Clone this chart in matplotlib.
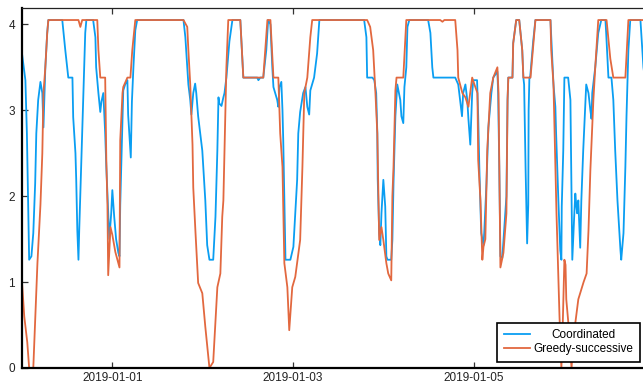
import numpy as np
import pandas as pd
import matplotlib
matplotlib.use("Agg")
import matplotlib.pyplot as plt
import matplotlib.dates as mdates
import matplotlib.ticker as mticker

plt.rcParams["font.family"] = ["Liberation Sans", "DejaVu Sans"]

# Hourly-ish profiles, hours counted from 2018-12-31 00:00
start = pd.Timestamp("2018-12-31 00:00")

coord_hours = [
    0.0, 0.9, 1.3, 1.7, 1.9, 2.5, 3.0, 3.5, 3.8, 4.3, 4.9, 5.4, 5.7, 6.2, 6.7, 7.0,
    10.7, 11.5, 12.3, 13.4, 13.6, 14.2, 14.4, 14.7, 15.0, 15.2, 15.8, 16.3, 16.8, 17.1,
    18.9, 19.5, 19.7, 20.3, 20.8, 21.1, 21.6, 22.1, 22.4, 22.9, 23.2, 23.7, 24.0, 24.5,
    25.0, 25.6, 25.9, 26.1, 26.6, 26.9, 27.4, 28.0, 28.2, 28.9, 29.2, 29.6, 30.1, 30.6,
    42.9, 43.4, 43.9, 44.2, 44.7, 45.0, 45.5, 46.0, 46.3, 46.8, 47.9, 48.7, 49.2, 49.8,
    50.8, 51.4, 51.9, 52.2, 52.4, 53.0, 53.5, 53.8, 54.3, 55.1, 55.9,
    58.0, 58.8, 62.5, 62.8, 63.3, 64.1, 64.9, 65.4, 66.0, 66.5, 66.8, 67.8, 68.1, 68.4,
    68.9, 69.2, 69.4, 69.7, 70.0, 71.3, 72.1, 72.6, 73.1, 73.4, 73.9, 74.7, 75.3, 75.8,
    76.3, 76.6, 77.6, 78.4, 79.0,
    90.9, 91.5, 91.7, 93.1, 93.6, 94.1, 94.4, 94.5, 94.9, 95.2, 95.5, 96.0, 96.5, 96.8,
    97.1, 98.1, 98.4, 98.7, 99.2, 99.7, 100.0, 100.5, 100.8, 101.3, 101.6, 102.1, 102.4,
    102.9, 107.9, 108.5, 109.0, 109.3,
    115.1, 115.9, 116.4, 116.9, 117.2, 117.8, 118.3, 118.6, 119.1, 119.6, 119.9, 120.9,
    121.2, 121.5, 122.0, 122.6, 122.8, 123.4, 123.9, 124.7, 125.2, 126.3, 126.5, 126.8,
    127.1, 127.6, 128.1, 128.7, 129.0, 129.2, 130.3, 130.5, 131.3, 132.1, 132.9, 133.2,
    133.4, 133.8, 134.2, 134.5, 134.6, 134.8, 135.0, 135.8, 136.4,
    140.4, 141.2, 141.7, 141.9, 142.5, 143.0, 143.3, 143.4, 143.8, 144.1, 145.1, 145.7,
    145.9, 146.1, 146.2, 146.7, 147.0, 147.3, 147.5, 147.8, 148.1, 148.3, 148.6, 149.1,
    149.7, 149.9, 150.5, 151.0, 151.3, 151.5, 152.3, 153.1, 153.9, 155.0, 155.2, 155.8,
    156.6, 157.1, 157.6, 158.2, 159.0, 159.2, 159.8, 160.3, 160.6, 161.1, 161.6, 164.3,
    165.1, 166.0,
]
coord_values = [
    3.66, 3.35, 2.73, 1.76, 1.26, 1.30, 1.57, 2.15, 2.73, 3.12, 3.33, 3.20, 2.80, 3.50, 3.90, 4.05,
    4.05, 3.70, 3.38, 3.38, 2.92, 2.50, 2.20, 1.60, 1.26, 1.60, 2.45, 3.12, 3.90, 4.05,
    4.05, 3.85, 3.50, 3.20, 2.98, 3.10, 3.20, 2.73, 2.34, 1.80, 1.50, 1.80, 2.07, 1.76,
    1.50, 1.34, 1.30, 1.90, 2.73, 3.23, 3.30, 3.35, 2.95, 2.45, 3.10, 3.50, 3.93, 4.05,
    4.05, 3.85, 3.50, 3.30, 3.12, 2.95, 3.20, 3.31, 3.20, 2.93, 2.53, 1.95, 1.43, 1.26,
    1.26, 1.76, 2.53, 3.15, 3.08, 3.05, 3.15, 3.20, 3.38, 3.80, 4.05,
    4.05, 3.38, 3.38, 3.35, 3.38, 3.38, 3.70, 4.05, 4.00, 3.50, 3.27, 3.12, 3.04, 3.27,
    3.33, 3.00, 2.66, 1.95, 1.26, 1.26, 1.41, 1.80, 2.19, 2.73, 2.98, 3.20, 3.27, 3.04,
    2.95, 3.23, 3.38, 3.66, 4.05,
    4.05, 3.85, 3.38, 3.38, 3.35, 3.20, 2.73, 2.20, 1.57, 1.43, 1.80, 2.19, 1.88, 1.30,
    1.26, 1.26, 1.49, 2.15, 2.93, 3.30, 3.23, 3.12, 2.93, 2.85, 3.27, 3.50, 3.97,
    4.05, 4.05, 3.90, 3.50, 3.38,
    3.38, 3.30, 3.12, 2.93, 3.20, 3.30, 3.12, 2.90, 2.60, 3.20, 3.35, 3.35,
    2.93, 2.34, 1.57, 1.43, 1.57, 2.15, 2.80, 3.20, 3.38, 3.45, 3.20, 2.34,
    1.30, 1.28, 1.60, 2.00, 3.12, 3.38, 3.38, 3.78, 4.05, 4.05, 3.70, 3.38,
    3.30, 2.30, 1.45, 1.90, 3.00, 3.38, 3.38, 3.80, 4.05,
    4.05, 3.30, 3.04, 2.73, 1.95, 1.37, 1.26, 1.88, 2.53, 3.38, 3.38, 3.12,
    2.34, 1.60, 1.26, 1.76, 2.03, 1.88, 1.80, 1.95, 1.60, 1.40, 1.95, 2.53,
    3.12, 3.30, 3.20, 3.00, 2.90, 3.20, 3.50, 3.90, 4.05, 4.05, 3.90, 3.38,
    3.38, 3.12, 2.53, 1.95, 1.37, 1.26, 1.57, 2.34, 2.93, 3.70, 4.05, 4.05,
    3.50, 3.20,
]

greedy_hours = [
    0.0, 0.6, 1.4, 1.9, 3.0, 4.1, 4.9, 5.4, 5.7, 6.2, 6.7, 7.0,
    15.0, 15.5, 16.0, 20.0, 20.3, 20.8, 22.1, 22.4, 22.7, 22.9, 23.5, 24.0, 24.8, 25.9,
    26.1, 26.7, 26.9, 28.0, 28.8, 29.3, 30.1,
    42.9, 43.9, 44.2, 44.7, 45.3, 45.5, 46.1, 46.8, 47.9, 48.7, 49.8, 50.8, 51.9, 52.7,
    53.2, 53.5, 54.3, 54.8, 58.0, 58.8, 64.1, 65.2, 66.0, 66.8, 68.1, 68.6, 69.2, 69.7,
    70.5, 71.0, 71.8, 72.6, 73.9, 74.5, 75.0, 75.8, 76.6, 77.1,
    91.7, 92.5, 93.3, 93.9, 94.4, 94.7, 94.9, 95.5, 96.0, 96.8, 97.3, 98.1, 98.4, 98.7,
    99.2, 99.5, 101.3, 101.8, 102.1,
    111.1, 111.7, 112.2, 115.1, 115.7, 115.9, 117.0, 117.8, 118.6, 119.6, 120.2, 121.0,
    121.2, 121.8, 122.3, 122.6, 123.1, 123.6, 124.4, 125.2, 126.3, 126.6, 126.8, 127.1,
    127.9, 128.7, 129.0, 129.2, 130.3, 130.5, 131.3, 132.1, 132.9, 133.2, 135.1, 135.9,
    136.4, 140.4, 140.6, 141.2, 141.7, 142.0, 142.2, 142.8, 143.3, 143.6, 144.1, 144.4,
    144.6, 145.2, 146.0, 146.5, 147.8, 149.2, 150.0, 150.5, 151.0, 151.8, 152.3, 153.1,
    155.3, 156.3, 157.1, 160.3, 161.1, 166.0,
]
greedy_values = [
    1.00, 0.60, 0.30, 0.00, 0.00, 1.22, 1.90, 2.50, 3.20, 3.50, 3.90, 4.05,
    4.05, 3.97, 4.05, 4.05, 3.70, 3.38, 3.38, 2.42, 1.90, 1.08, 1.64, 1.55, 1.35, 1.17,
    2.65, 3.20, 3.27, 3.38, 3.38, 3.70, 4.05,
    4.05, 3.97, 3.70, 3.30, 2.60, 2.10, 1.57, 0.99, 0.87, 0.48, 0.00, 0.07, 0.94, 1.10,
    1.76, 1.95, 3.50, 4.05, 4.05, 3.38, 3.38, 4.05, 4.05, 3.38, 3.38, 2.73, 2.34, 1.22,
    0.94, 0.44, 0.94, 1.06, 1.49, 2.34, 3.20, 3.38, 3.85, 4.05,
    4.05, 3.97, 3.70, 3.20, 2.73, 1.95, 1.49, 1.64, 1.49, 1.22, 1.10, 1.02, 2.00, 2.34,
    3.23, 3.38, 3.38, 3.80, 4.05,
    4.05, 4.03, 4.05, 4.05, 3.70, 3.38, 3.20, 3.15, 3.04, 3.38, 3.30, 3.20,
    2.42, 1.95, 1.26, 1.41, 1.50, 2.53, 3.20, 3.38, 3.50, 3.20, 2.34, 1.17,
    1.34, 1.80, 3.12, 3.38, 3.38, 3.78, 4.05, 4.05, 3.70, 3.38, 3.38, 3.80,
    4.05, 4.05, 3.70, 3.30, 2.34, 1.80, 1.50, 0.60, 0.00, 0.40, 1.26, 1.20,
    0.80, 0.50, 0.00, 0.35, 0.80, 1.00, 1.10, 1.60, 2.30, 3.12, 3.50, 4.05,
    4.05, 3.60, 3.38, 3.38, 4.05, 4.05,
]

series_labels = ["Coordinated", "Greedy-successive"]
tick_dates = ["2019-01-01", "2019-01-03", "2019-01-05"]
y_ticks = [0, 1, 2, 3, 4]

coord_color = "#0A9EF2"
greedy_color = "#E2683F"

coord_t = start + pd.to_timedelta(coord_hours, unit="h")
greedy_t = start + pd.to_timedelta(greedy_hours, unit="h")

fig = plt.figure(figsize=(6.43, 3.84), dpi=100)
ax = fig.add_axes([22 / 643, 16 / 384, (646 - 22) / 643, 360 / 384])

ax.plot(coord_t, coord_values, color=coord_color, lw=1.3, label=series_labels[0])
ax.plot(greedy_t, greedy_values, color=greedy_color, lw=1.3, label=series_labels[1])

ax.set_xlim(start, start + pd.Timedelta(hours=(646 - 22) / 3.764))
ax.set_ylim(0, 4.19)

ax.xaxis.set_major_locator(mticker.FixedLocator(mdates.date2num(pd.to_datetime(tick_dates))))
ax.xaxis.set_major_formatter(mdates.DateFormatter("%Y-%m-%d"))
ax.set_yticks(y_ticks)

ax.tick_params(axis="both", direction="in", length=4, width=0.9, colors="#333333",
               labelsize=8.5, labelcolor="#222222")
ax.tick_params(axis="x", top=True, pad=3)
ax.tick_params(axis="y", pad=5)

for side in ("left", "bottom"):
    ax.spines[side].set_linewidth(1.6)
    ax.spines[side].set_color("black")
ax.spines["top"].set_linewidth(0.9)
ax.spines["top"].set_color("#222222")
ax.spines["right"].set_visible(False)

leg = ax.legend(loc="lower right", fontsize=8.5, frameon=True, fancybox=False,
                edgecolor="black", framealpha=1, borderaxespad=0.55, borderpad=0.55,
                labelspacing=0.15, handlelength=2.2, handletextpad=0.3)
leg.get_frame().set_linewidth(1.2)

# centre the shorter legend label over the longer one
fig.canvas.draw()
renderer = fig.canvas.get_renderer()
texts = leg.get_texts()
widths = [t.get_window_extent(renderer).width for t in texts]
wmax = max(widths)
for t, w in zip(texts, widths):
    t.set_x((wmax - w) / 2)

fig.savefig("out.png", dpi=100)
